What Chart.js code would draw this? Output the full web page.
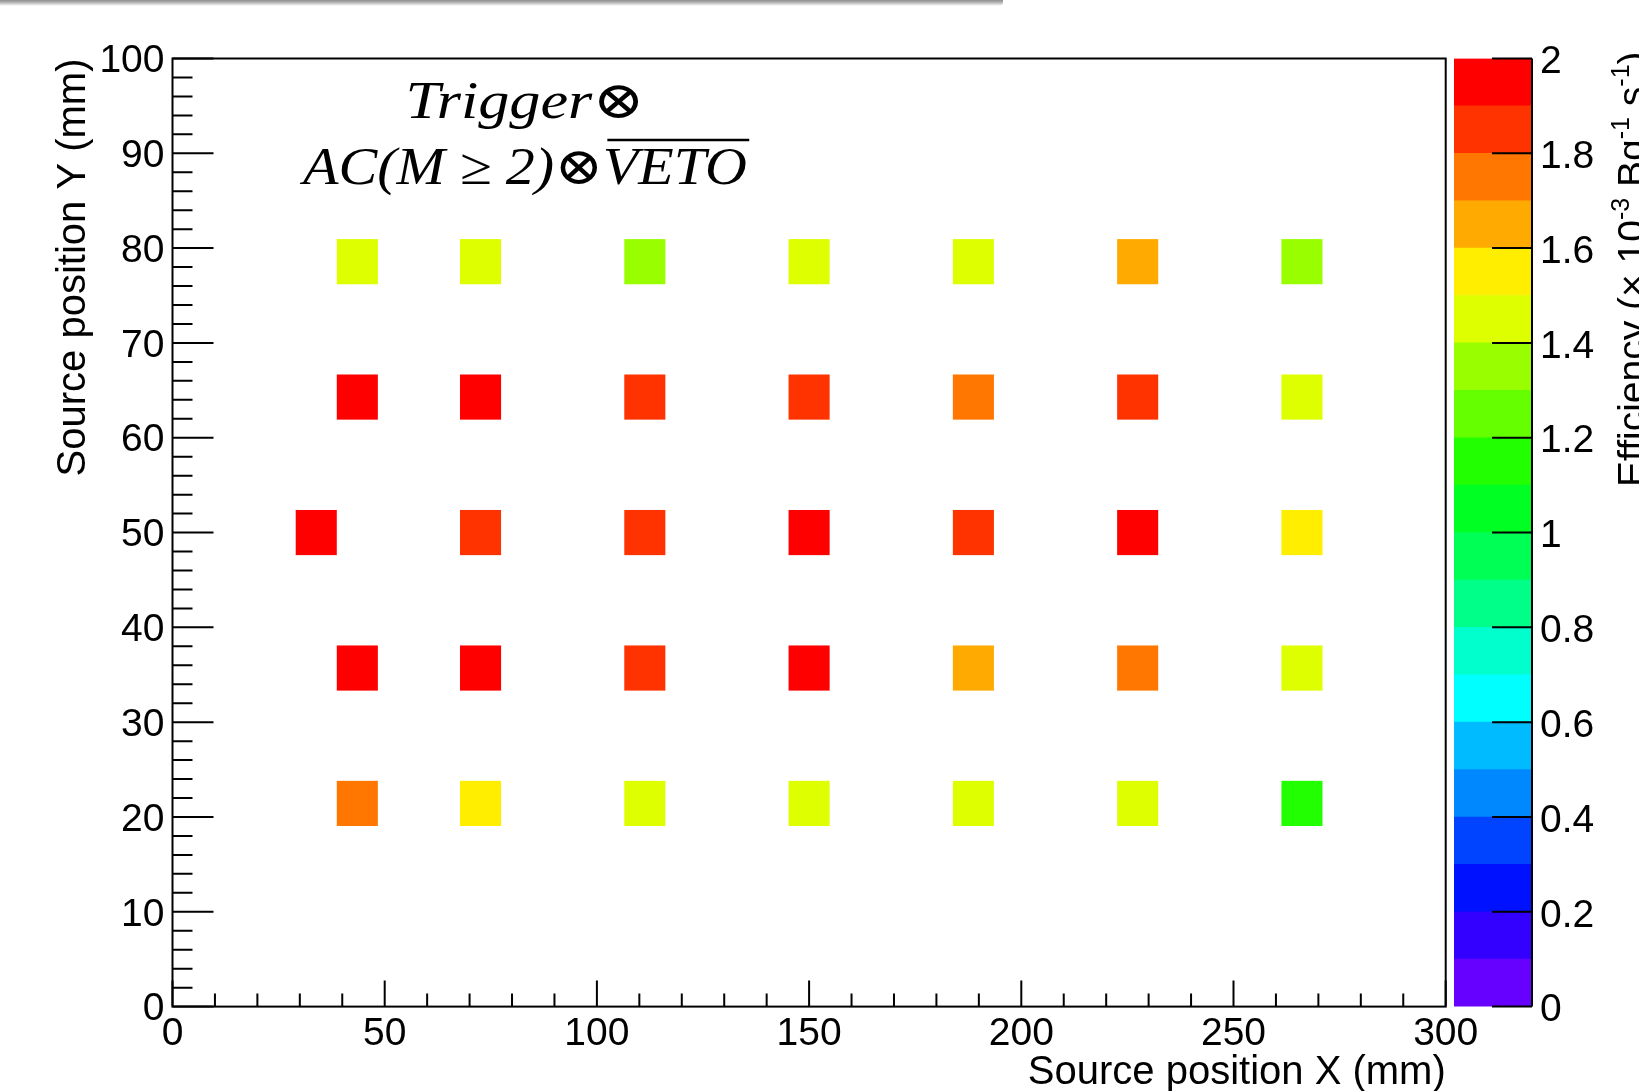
<!DOCTYPE html>
<html>
<head>
<meta charset="utf-8">
<title>Efficiency map</title>
<script src="https://cdn.jsdelivr.net/npm/chart.js@4.4.0/dist/chart.umd.min.js"></script>
<style>
  html, body { margin: 0; padding: 0; background: #fff; overflow: hidden; }
  #wrap { position: relative; width: 1639px; height: 1091px; }
  #main { position: absolute; left: 0; top: 0; }
  #zbar { position: absolute; left: 1454px; top: 0; }
  #topbar {
    position: absolute; left: 0; top: 0; width: 1003px; height: 6px;
    background: linear-gradient(to bottom, #8e8e8e 0%, #b8b8b8 45%, #e6e6e6 80%, #fff 100%);
    border-bottom-right-radius: 4px;
  }
</style>
</head>
<body>
<div id="wrap">
  <canvas id="main" width="1639" height="1091" style="width:1639px;height:1091px"></canvas>
  <canvas id="zbar" width="185" height="1091" style="width:185px;height:1091px"></canvas>
  <div id="topbar"></div>
</div>
<script>
'use strict';

// ---- Cell centres (mm) and efficiency (x 10^-3 Bq^-1 s^-1) ----
const cellX = [
  43.55, 72.58, 111.29, 150.00, 188.71, 227.42, 266.13,
  43.55, 72.58, 111.29, 150.00, 188.71, 227.42, 266.13,
  33.87, 72.58, 111.29, 150.00, 188.71, 227.42, 266.13,
  43.55, 72.58, 111.29, 150.00, 188.71, 227.42, 266.13,
  43.55, 72.58, 111.29, 150.00, 188.71, 227.42, 266.13,
];
const cellY = [
  78.57, 78.57, 78.57, 78.57, 78.57, 78.57, 78.57,
  64.29, 64.29, 64.29, 64.29, 64.29, 64.29, 64.29,
  50.00, 50.00, 50.00, 50.00, 50.00, 50.00, 50.00,
  35.71, 35.71, 35.71, 35.71, 35.71, 35.71, 35.71,
  21.43, 21.43, 21.43, 21.43, 21.43, 21.43, 21.43,
];
const cellZ = [
  1.46, 1.44, 1.36, 1.45, 1.46, 1.66, 1.35,
  1.96, 1.95, 1.86, 1.84, 1.74, 1.85, 1.45,
  1.95, 1.84, 1.86, 1.93, 1.85, 1.94, 1.56,
  1.94, 1.95, 1.86, 1.95, 1.66, 1.74, 1.44,
  1.75, 1.55, 1.45, 1.44, 1.46, 1.45, 1.16,
];

// histogram binning (31 x 21 bins)
const binW = 300 / 31;
const binH = 100 / 21;

// ---- Colour palette (z bands, bottom to top) ----
const zEdges = [0, 0.1, 0.2, 0.3, 0.4, 0.5, 0.6, 0.7, 0.8, 0.9, 1.0,
                1.1, 1.2, 1.3, 1.4, 1.5, 1.6, 1.7, 1.8, 1.9, 2.0];
const zColors = [
  '#6600ff', '#3300ff', '#0011ff', '#0044ff', '#0088ff',
  '#00bbff', '#00ffff', '#00ffcc', '#00ff88', '#00ff55',
  '#00ff22', '#22ff00', '#66ff00', '#99ff00', '#ddff00',
  '#ffee00', '#ffaa00', '#ff7700', '#ff3300', '#ff0000',
];

const FONT = '"Liberation Sans", Arial, Helvetica, sans-serif';
const SERIF = '"Liberation Serif", "DejaVu Serif", serif';
Chart.defaults.font.family = FONT;
Chart.defaults.color = '#000';

function colorFor(z) {
  for (let i = 0; i < zColors.length; i++) {
    if (z >= zEdges[i] && z < zEdges[i + 1]) return zColors[i];
  }
  return zColors[zColors.length - 1];
}

// ---- Plugin: histogram cells ----
const cellPlugin = {
  id: 'cells',
  afterDatasetsDraw(chart) {
    const { ctx } = chart;
    const xs = chart.scales.x, ys = chart.scales.y;
    chart.data.datasets[0].data.forEach(p => {
      const x0 = xs.getPixelForValue(p.x - binW / 2);
      const x1 = xs.getPixelForValue(p.x + binW / 2);
      const y0 = ys.getPixelForValue(p.y + binH / 2);
      const y1 = ys.getPixelForValue(p.y - binH / 2);
      ctx.fillStyle = colorFor(p.z);
      ctx.fillRect(x0, y0, x1 - x0, y1 - y0);
    });
  }
};

// ---- Plugin: ROOT-like frame, inward ticks and formula ----
const framePlugin = {
  id: 'frame',
  afterDraw(chart) {
    const { ctx, chartArea: a } = chart;
    const xs = chart.scales.x, ys = chart.scales.y;
    ctx.save();
    ctx.strokeStyle = '#000';
    ctx.lineWidth = 2;
    ctx.strokeRect(a.left, a.top, a.right - a.left, a.bottom - a.top);

    ctx.beginPath();
    for (let v = 0; v <= 300; v += 10) {
      const px = xs.getPixelForValue(v);
      const len = v % 50 === 0 ? 26 : 13;
      ctx.moveTo(px, a.bottom);
      ctx.lineTo(px, a.bottom - len);
    }
    for (let v = 0; v <= 100; v += 2) {
      const py = ys.getPixelForValue(v);
      const len = v % 10 === 0 ? 41 : 20;
      ctx.moveTo(a.left, py);
      ctx.lineTo(a.left + len, py);
    }
    ctx.stroke();

    // formula text
    ctx.fillStyle = '#000';
    ctx.font = 'italic 52px ' + SERIF;
    ctx.textBaseline = 'alphabetic';
    ctx.textAlign = 'left';
    const cx = 525;

    const l1 = 'Trigger\u2297';
    const w1 = ctx.measureText(l1).width;
    ctx.save();
    ctx.translate(cx, 118);
    ctx.scale(239 / w1, 1);
    ctx.fillText(l1, -w1 / 2, 0);
    ctx.restore();

    const partA = 'AC(M \u2265 2)\u2297';
    const partB = 'VETO';
    const wA = ctx.measureText(partA).width;
    const wB = ctx.measureText(partB).width;
    const sx = 444 / (wA + wB);
    ctx.save();
    ctx.translate(cx, 184);
    ctx.scale(sx, 1);
    const start = -(wA + wB) / 2;
    ctx.fillText(partA, start, 0);
    ctx.fillText(partB, start + wA, 0);
    ctx.lineWidth = 2.5;
    ctx.beginPath();
    ctx.moveTo(start + wA + 4, -44);
    ctx.lineTo(start + wA + wB + 2, -44);
    ctx.stroke();
    ctx.restore();

    ctx.restore();
  }
};

new Chart(document.getElementById('main'), {
  type: 'scatter',
  data: {
    datasets: [{
      label: 'Efficiency',
      data: cellX.map((x, i) => ({ x, y: cellY[i], z: cellZ[i] })),
      pointRadius: 0,
      pointHoverRadius: 0,
    }]
  },
  options: {
    responsive: false,
    animation: false,
    events: [],
    layout: { padding: { top: 58.5, right: 193.3, left: 0, bottom: 0 } },
    plugins: { legend: { display: false }, tooltip: { enabled: false } },
    scales: {
      x: {
        type: 'linear', min: 0, max: 300,
        grid: { display: false, drawTicks: false },
        border: { display: false },
        ticks: { stepSize: 50, autoSkip: false, maxRotation: 0, padding: 4,
                 color: '#000', font: { size: 39 } },
        title: { display: true, text: 'Source position X (mm)', align: 'end', color: '#000',
                 font: { size: 40, lineHeight: 1 }, padding: { top: 0, bottom: -1.5 } },
        afterFit(s) { s.height = 84.4; },
      },
      y: {
        type: 'linear', min: 0, max: 100,
        grid: { display: false, drawTicks: false },
        border: { display: false },
        ticks: { stepSize: 10, autoSkip: false, padding: 8, labelOffset: 3,
                 color: '#000', font: { size: 39 } },
        title: { display: true, text: 'Source position Y (mm)', align: 'end', color: '#000',
                 font: { size: 40, lineHeight: 1 }, padding: { top: 54, bottom: 0 } },
        afterFit(s) { s.width = 172.5; },
      },
    },
  },
  plugins: [cellPlugin, framePlugin],
});

// ---- Colour bar ----
const zbarPlugin = {
  id: 'zbarDeco',
  afterDraw(chart) {
    const { ctx, chartArea: a } = chart;
    const ys = chart.scales.y;
    ctx.save();
    ctx.strokeStyle = '#000';
    ctx.lineWidth = 2;
    ctx.beginPath();
    ctx.moveTo(a.right, a.top);
    ctx.lineTo(a.right, a.bottom);
    for (let i = 0; i <= 10; i++) {
      const py = ys.getPixelForValue(i * 0.2);
      ctx.moveTo(a.right - 40, py);
      ctx.lineTo(a.right, py);
    }
    ctx.stroke();

    // axis title, read bottom to top
    ctx.translate(191, 487);
    ctx.rotate(-Math.PI / 2);
    ctx.fillStyle = '#000';
    ctx.textBaseline = 'alphabetic';
    ctx.textAlign = 'left';
    const big = '39px ' + FONT, small = '25px ' + FONT;
    const parts = [
      ['Efficiency (\u00d7 10', big, 0], ['-3', small, -16],
      [' Bq', big, 0], ['-1', small, -16],
      [' s', big, 0], ['-1', small, -16],
      [')', big, 0],
    ];
    let x = 0;
    parts.forEach(([t, f, dy]) => {
      ctx.font = f;
      ctx.fillText(t, x, dy);
      x += ctx.measureText(t).width;
    });
    ctx.restore();
  }
};

new Chart(document.getElementById('zbar'), {
  type: 'bar',
  data: {
    labels: [''],
    datasets: zColors.map((c, i) => ({
      label: String(zEdges[i]),
      data: [[zEdges[i], zEdges[i + 1]]],
      backgroundColor: c,
      borderWidth: 0,
      barPercentage: 1,
      categoryPercentage: 1,
      grouped: false,
    })),
  },
  options: {
    responsive: false,
    animation: false,
    events: [],
    layout: { padding: { top: 58.5, right: 0, left: 0, bottom: 84.4 } },
    plugins: { legend: { display: false }, tooltip: { enabled: false } },
    scales: {
      x: { display: false },
      y: {
        position: 'right', min: 0, max: 2,
        grid: { display: false, drawTicks: false },
        border: { display: false },
        ticks: { stepSize: 0.2, autoSkip: false, padding: 8, labelOffset: 4, color: '#000',
                 font: { size: 39 }, callback: v => String(+v.toFixed(1)) },
        afterFit(s) { s.width = 107; },
      },
    },
  },
  plugins: [zbarPlugin],
});
</script>
</body>
</html>
